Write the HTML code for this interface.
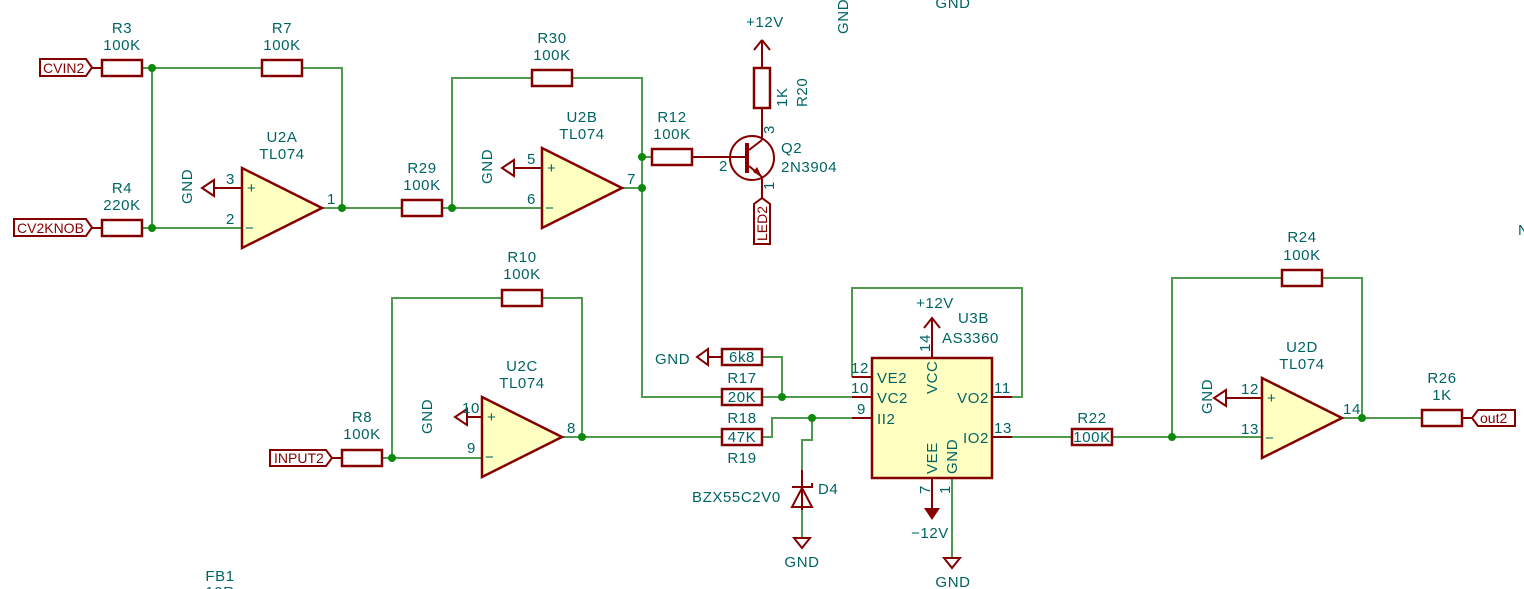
<!DOCTYPE html>
<html><head><meta charset="utf-8"><style>
html,body{margin:0;padding:0;background:#fff;width:1524px;height:589px;overflow:hidden}
svg{display:block}
.w{stroke:#4f9a4f;stroke-width:2;fill:none}
.c{stroke:#840000;stroke-width:2.5;fill:none}
.cf{stroke:#840000;stroke-width:2.5;fill:#ffffc2}
.p{stroke:#840000;stroke-width:2;fill:none}
.j{fill:#0b8a0b}
text{font-family:"Liberation Sans",sans-serif;font-size:15px;letter-spacing:0.6px;fill:#006464}
.m{text-anchor:middle}
.pn{fill:#8a0000}
.lb{fill:#840000;font-size:14px;letter-spacing:0}
</style></head><body>
<svg width="1524" height="589" viewBox="0 0 1524 589" xmlns="http://www.w3.org/2000/svg">
<path class="w" d="M142 68H262M302 68H342V208M152 68V228M142 228H242M322 208H402M442 208H542M452 208V78H532M572 78H642V397H722M642 157H652M622 188H642"/>
<path class="w" d="M392 458V298H502M542 298H582V437M382 458H482M562 437H722M762 357H782V397M762 397H852M762 437H772V418H852M812 418V440H802V470M802 510V538"/>
<path class="w" d="M852 377V288H1022V397H992M992 437H1072M1112 437H1262M1172 437V278H1282M1322 278H1362V418M1342 418H1422M952 478V558"/>
<g class="j"><circle cx="152" cy="68" r="4"/><circle cx="152" cy="228" r="4"/><circle cx="342" cy="208" r="4"/><circle cx="452" cy="208" r="4"/><circle cx="642" cy="157" r="4"/><circle cx="642" cy="188" r="4"/><circle cx="392" cy="458" r="4"/><circle cx="582" cy="437" r="4"/><circle cx="782" cy="397" r="4"/><circle cx="812" cy="418" r="4"/><circle cx="1172" cy="437" r="4"/><circle cx="1362" cy="418" r="4"/></g>
<g class="c">
<rect x="102" y="60" width="40" height="16"/><rect x="262" y="60" width="40" height="16"/><rect x="102" y="220" width="40" height="16"/>
<rect x="402" y="200" width="40" height="16"/><rect x="532" y="70" width="40" height="16"/><rect x="652" y="149" width="40" height="16"/>
<rect x="754" y="68" width="16" height="40"/><rect x="502" y="290" width="40" height="16"/><rect x="342" y="450" width="40" height="16"/>
<rect x="722" y="349" width="40" height="16"/><rect x="722" y="389" width="40" height="16"/><rect x="722" y="429" width="40" height="16"/>
<rect x="1072" y="429" width="40" height="16"/><rect x="1282" y="270" width="40" height="16"/><rect x="1422" y="410" width="40" height="16"/>
</g>
<g class="p">
<path d="M40 59H86L92 67.5 86 76H40Z"/><path d="M14 219H86L92 227.5 86 236H14Z"/>
<path d="M270 450H326L332 458 326 466H270Z"/><path d="M1515 410H1478L1472 418 1478 426H1515Z"/>
<path d="M754 244V204L762 198 770 204V244Z"/>
<path d="M92 68H102M92 228H102M332 458H342M1462 418H1472M762 40V68M762 108V140M762 177V198M692 157H722"/>
</g>
<text x="43" y="73" class="lb">CVIN2</text><text x="17" y="233" class="lb">CV2KNOB</text><text x="274" y="463" class="lb">INPUT2</text><text x="1480" y="423" class="lb">out2</text>
<text class="lb" transform="translate(767,241) rotate(-90)">LED2</text>
<g class="cf"><path d="M242 168V248L322 208Z"/><path d="M542 148V228L622 188Z"/><path d="M482 397V477L562 437Z"/><path d="M1262 378V458L1342 418Z"/><rect x="872" y="358" width="120" height="120"/></g>
<g class="p">
<path d="M214 188H242M214 180L202 188 214 196Z"/><path d="M514 168H542M514 160L502 168 514 176Z"/><path d="M467 417H482M467 409L455 417 467 425Z"/><path d="M1225 398H1262M1226 390L1214 398 1226 406Z"/>
<path d="M708 357H722M708 349L697 357 708 365Z"/>
<path d="M932 358V318M924 328L932 318 940 328"/><path d="M762 40L754 50M762 40L770 50"/>
<path d="M932 478V508"/><path d="M852 377H872M852 397H872M852 418H872M992 397H1012M992 437H1012"/>
<path d="M794 538H810L802 548Z"/><path d="M944 558H960L952 568Z"/>
<path d="M802 470V510M792 487H812V483M792 507H812L802 488Z"/>
<circle cx="752" cy="158" r="22"/><path d="M747 143V173" stroke-width="4"/><path d="M722 157H747M749 150L762 140M749 166L762 177"/>
</g>
<path d="M924 508H940L932 520Z" fill="#840000"/>
<path d="M762 177L753 172 757 167Z" fill="#840000"/>
<g class="pn">
<text x="247" y="193">+</text><text x="245" y="233">−</text><text x="547" y="173">+</text><text x="545" y="213">−</text>
<text x="487" y="422">+</text><text x="485" y="462">−</text><text x="1267" y="403">+</text><text x="1265" y="443">−</text>
<text x="226" y="184">3</text><text x="226" y="224">2</text><text x="327" y="204">1</text>
<text x="527" y="164">5</text><text x="527" y="204">6</text><text x="627" y="184">7</text>
<text x="462" y="413">10</text><text x="467" y="453">9</text><text x="567" y="433">8</text>
<text x="1241" y="394">12</text><text x="1241" y="434">13</text><text x="1343" y="414">14</text>
<text x="851" y="373">12</text><text x="851" y="393">10</text><text x="857" y="414">9</text><text x="994" y="393">11</text><text x="994" y="433">13</text>
<text x="719" y="171">2</text>
<text transform="translate(774,134) rotate(-90)">3</text><text transform="translate(774,190) rotate(-90)">1</text>
<text transform="translate(930,352) rotate(-90)">14</text><text transform="translate(930,494) rotate(-90)">7</text><text transform="translate(950,494) rotate(-90)">1</text>
</g>
<text x="877" y="383">VE2</text><text x="877" y="403">VC2</text><text x="877" y="424">II2</text>
<text x="989" y="403" text-anchor="end">VO2</text><text x="989" y="443" text-anchor="end">IO2</text>
<text transform="translate(937,394) rotate(-90)">VCC</text><text transform="translate(937,474) rotate(-90)">VEE</text><text transform="translate(957,474) rotate(-90)">GND</text>
<g class="m">
<text x="122" y="33">R3</text><text x="122" y="50">100K</text><text x="282" y="33">R7</text><text x="282" y="50">100K</text>
<text x="122" y="193">R4</text><text x="122" y="210">220K</text><text x="282" y="142">U2A</text><text x="282" y="159">TL074</text>
<text x="422" y="173">R29</text><text x="422" y="190">100K</text><text x="552" y="43">R30</text><text x="552" y="60">100K</text>
<text x="582" y="122">U2B</text><text x="582" y="139">TL074</text><text x="672" y="122">R12</text><text x="672" y="139">100K</text>
<text x="765" y="27">+12V</text>
<text x="522" y="262">R10</text><text x="522" y="279">100K</text><text x="522" y="371">U2C</text><text x="522" y="388">TL074</text>
<text x="362" y="422">R8</text><text x="362" y="439">100K</text>
<text x="742" y="362">6k8</text><text x="742" y="383">R17</text><text x="742" y="402">20K</text><text x="742" y="423">R18</text><text x="742" y="442">47K</text><text x="742" y="463">R19</text>
<text x="802" y="567">GND</text><text x="935" y="308">+12V</text><text x="930" y="538">−12V</text><text x="953" y="587">GND</text>
<text x="1092" y="423">R22</text><text x="1092" y="442">100K</text><text x="1302" y="242">R24</text><text x="1302" y="260">100K</text>
<text x="1302" y="352">U2D</text><text x="1302" y="369">TL074</text><text x="1442" y="383">R26</text><text x="1442" y="400">1K</text>
<text x="220" y="581">FB1</text><text x="220" y="597">10R</text><text x="953" y="8">GND</text>
</g>
<text x="655" y="364">GND</text><text x="818" y="494">D4</text><text x="692" y="502">BZX55C2V0</text>
<text x="958" y="323">U3B</text><text x="942" y="343">AS3360</text>
<text x="781" y="153">Q2</text><text x="781" y="172">2N3904</text><text x="1518" y="235">N</text>
<text transform="translate(192,204) rotate(-90)">GND</text><text transform="translate(492,184) rotate(-90)">GND</text>
<text transform="translate(432,434) rotate(-90)">GND</text><text transform="translate(1212,414) rotate(-90)">GND</text>
<text transform="translate(848,34) rotate(-90)">GND</text>
<text transform="translate(787,107) rotate(-90)">1K</text><text transform="translate(807,107) rotate(-90)">R20</text>
</svg>
</body></html>
